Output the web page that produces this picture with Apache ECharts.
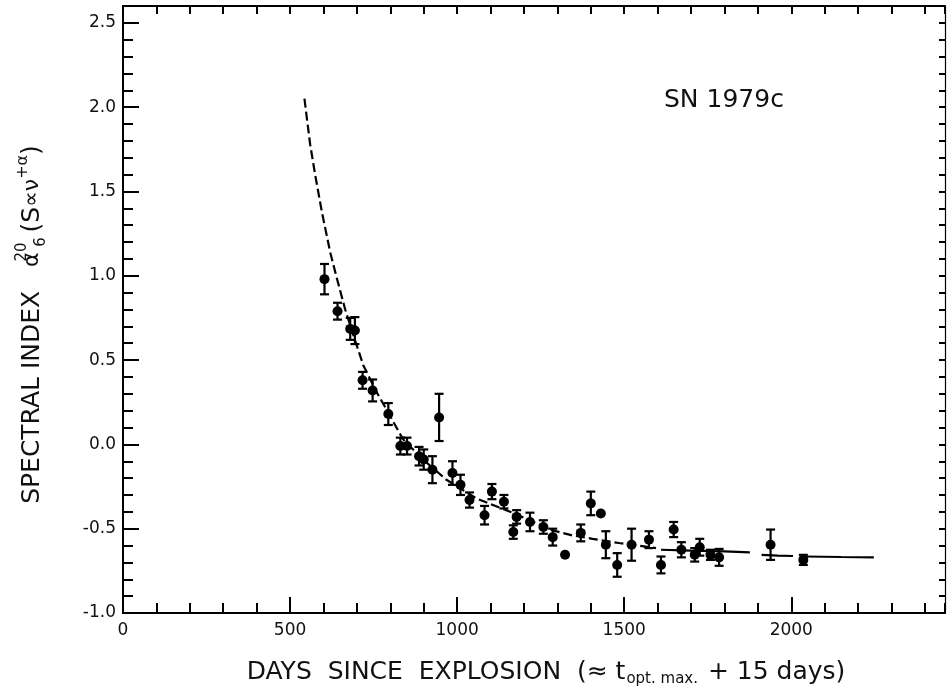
<!DOCTYPE html>
<html>
<head>
<meta charset="utf-8">
<script src="https://cdn.jsdelivr.net/npm/echarts@6/dist/echarts.min.js"></script>
<style>
  html, body { margin: 0; padding: 0; background: #fff; }
  #chart { width: 950px; height: 692px; }
</style>
</head>
<body>
<div id="chart"></div>
<script>
// SN 1979c: radio spectral index (6 cm / 20 cm) versus days since explosion.

const FONT = '"DejaVu Sans", "Liberation Sans", sans-serif';
const INK = '#111';

// Tick labels
const xTickLabels = ['0', '500', '1000', '1500', '2000'];
const yTickLabels = ['-1.0', '-0.5', '0.0', '0.5', '1.0', '1.5', '2.0', '2.5'];

// Measured spectral indices with 1-sigma errors (0 = no bar drawn)
const obsDays  = [603, 642, 680, 694, 717, 747, 794, 830, 850, 886, 900, 926, 946, 986, 1010, 1037, 1082, 1104, 1140, 1168, 1178, 1218, 1258, 1286, 1323, 1370, 1400, 1430, 1445, 1479, 1522, 1574, 1610, 1648, 1671, 1711, 1726, 1758, 1784, 1938, 2036];
const obsIndex = [0.98, 0.79, 0.685, 0.675, 0.38, 0.32, 0.18, -0.01, -0.01, -0.07, -0.09, -0.15, 0.16, -0.17, -0.24, -0.33, -0.42, -0.28, -0.34, -0.52, -0.43, -0.46, -0.49, -0.55, -0.655, -0.525, -0.35, -0.41, -0.595, -0.715, -0.595, -0.565, -0.715, -0.505, -0.625, -0.655, -0.61, -0.655, -0.67, -0.595, -0.685];
const obsErr   = [0.09, 0.05, 0.065, 0.08, 0.05, 0.065, 0.065, 0.05, 0.05, 0.055, 0.06, 0.08, 0.14, 0.07, 0.06, 0.045, 0.055, 0.045, 0.04, 0.04, 0.04, 0.055, 0.04, 0.05, 0, 0.05, 0.07, 0, 0.08, 0.07, 0.095, 0.05, 0.05, 0.045, 0.045, 0.04, 0.05, 0.03, 0.05, 0.09, 0.03];

// Model curve: dashed early part
const fitDays  = [543, 560, 575, 595, 620, 638, 665, 694, 719, 759, 799, 838, 898, 968, 1057, 1147, 1206, 1286, 1345, 1405, 1484, 1540, 1595];
const fitIndex = [2.05, 1.78, 1.60, 1.38, 1.14, 1.00, 0.80, 0.62, 0.47, 0.31, 0.17, 0.03, -0.09, -0.21, -0.32, -0.39, -0.44, -0.51, -0.54, -0.56, -0.585, -0.60, -0.615];

// Model curve: flat tail drawn in long strokes (null = pen lifted)
const tailDays  = [1610, 1700, 1800, 1876, 1893, 1911, 1960, 2005, 2022, 2040, 2150, 2247];
const tailIndex = [-0.625, -0.63, -0.635, -0.64, null, -0.655, -0.66, -0.662, null, -0.665, -0.668, -0.67];

const fitData  = fitDays.map((d, i) => [d, fitIndex[i]]);
const tailData = tailDays.map((d, i) => [d, tailIndex[i]]);
const obsData  = obsDays.map((d, i) => [d, obsIndex[i], obsErr[i]]);

const X_MIN = 0, X_MAX = 2460;
const Y_MIN = -1.0, Y_MAX = 2.6;

const lineBlack = { color: '#000', width: 2 };
const tickRich = { n: { fontSize: 17, fontFamily: FONT, color: INK } };

function fmtX(v) {
  const s = String(Math.round(v));
  return xTickLabels.indexOf(s) >= 0 ? '{n|' + s + '}' : '';
}
function fmtY(v) {
  const s = (Math.round(v * 10) / 10).toFixed(1);
  return yTickLabels.indexOf(s) >= 0 ? '{n|' + s + '}' : '';
}

function errorBar(params, api) {
  const x = api.value(0), y = api.value(1), e = api.value(2);
  if (!e) return;
  const top = api.coord([x, y + e]);
  const bot = api.coord([x, y - e]);
  const cap = 4.5;
  const st = { stroke: '#000', lineWidth: 2.2 };
  return {
    type: 'group',
    children: [
      { type: 'line', shape: { x1: top[0], y1: top[1], x2: bot[0], y2: bot[1] }, style: st },
      { type: 'line', shape: { x1: top[0] - cap, y1: top[1], x2: top[0] + cap, y2: top[1] }, style: st },
      { type: 'line', shape: { x1: bot[0] - cap, y1: bot[1], x2: bot[0] + cap, y2: bot[1] }, style: st }
    ]
  };
}

const chart = echarts.init(document.getElementById('chart'), null, { renderer: 'canvas' });

const option = {
  animation: false,
  backgroundColor: '#fff',
  textStyle: { fontFamily: FONT, fontSize: 17, color: INK },
  grid: { left: 123, right: 5, top: 6, bottom: 79, outerBoundsMode: 'none' },
  xAxis: [
    {
      type: 'value', position: 'bottom', min: X_MIN, max: X_MAX, interval: 500,
      axisLine: { show: true, onZero: false, lineStyle: lineBlack },
      axisTick: { show: true, inside: true, length: 16, lineStyle: lineBlack },
      axisLabel: { margin: 9, formatter: fmtX, rich: tickRich, showMaxLabel: false },
      splitLine: { show: false },
      name: '{t|DAYS  SINCE  EXPLOSION  (≈ t}{sb|opt. max.}{t| + 15 days)}',
      nameLocation: 'middle',
      nameGap: 44,
      nameTextStyle: {
        padding: [0, 0, 0, 24],
        rich: {
          t: { fontSize: 25, fontFamily: FONT, color: INK, lineHeight: 30, verticalAlign: 'middle' },
          sb: { fontSize: 15, fontFamily: FONT, color: INK, lineHeight: 15, verticalAlign: 'bottom', padding: [0, 2, 0, 1] }
        }
      }
    },
    {
      type: 'value', position: 'bottom', min: X_MIN, max: X_MAX, interval: 100,
      axisLine: { show: false, onZero: false },
      axisTick: { show: true, inside: true, length: 10, lineStyle: lineBlack },
      axisLabel: { show: false },
      splitLine: { show: false }
    },
    {
      type: 'value', position: 'top', min: X_MIN, max: X_MAX, interval: 100,
      axisLine: { show: true, onZero: false, lineStyle: lineBlack },
      axisTick: { show: true, inside: true, length: 8, lineStyle: lineBlack },
      axisLabel: { show: false },
      splitLine: { show: false }
    }
  ],
  yAxis: [
    {
      type: 'value', position: 'left', min: Y_MIN, max: Y_MAX, interval: 0.5,
      axisLine: { show: true, onZero: false, lineStyle: lineBlack },
      axisTick: { show: true, inside: true, length: 16, lineStyle: lineBlack },
      axisLabel: { margin: 7, formatter: fmtY, rich: tickRich, showMaxLabel: false },
      splitLine: { show: false },
      name: '{t|SPECTRAL INDEX   }{g|α}{sp|20}{sb|6}{t|(S}{g|∝}{g|ν}{sp2|+α}{t|)}',
      nameLocation: 'middle',
      nameRotate: 90,
      nameGap: 74,
      nameTextStyle: {
        padding: [0, 30, 0, 0],
        rich: {
          t: { fontSize: 25, fontFamily: FONT, color: INK, lineHeight: 34, verticalAlign: 'middle' },
          g: { fontSize: 22, fontFamily: FONT, color: INK, lineHeight: 34, verticalAlign: 'middle' },
          sp: { fontSize: 15, fontFamily: FONT, color: INK, lineHeight: 15, verticalAlign: 'top', width: 1 },
          sb: { fontSize: 15, fontFamily: FONT, color: INK, lineHeight: 15, verticalAlign: 'bottom', width: 19 },
          sp2: { fontSize: 16, fontFamily: FONT, color: INK, lineHeight: 16, verticalAlign: 'top' }
        }
      }
    },
    {
      type: 'value', position: 'left', min: Y_MIN, max: Y_MAX, interval: 0.1,
      axisLine: { show: false, onZero: false },
      axisTick: { show: true, inside: true, length: 10, lineStyle: lineBlack },
      axisLabel: { show: false },
      splitLine: { show: false }
    },
    {
      type: 'value', position: 'right', min: Y_MIN, max: Y_MAX, interval: 0.1,
      axisLine: { show: true, onZero: false, lineStyle: { color: '#000', width: 1.2 } },
      axisTick: { show: true, inside: true, length: 6, lineStyle: lineBlack },
      axisLabel: { show: false },
      splitLine: { show: false }
    }
  ],
  graphic: [
    {
      type: 'text', left: 664, top: 88,
      style: { text: 'SN 1979c', font: '25px ' + FONT, fill: INK }
    }
  ],
  series: [
    {
      name: 'model', type: 'line', xAxisIndex: 0, yAxisIndex: 0,
      data: fitData, showSymbol: false, symbol: 'none', smooth: false,
      lineStyle: { color: '#000', width: 2.2, type: [9, 4] },
      z: 2
    },
    {
      name: 'model tail', type: 'line', xAxisIndex: 0, yAxisIndex: 0,
      data: tailData, showSymbol: false, symbol: 'none', connectNulls: false,
      lineStyle: { color: '#000', width: 2.2 },
      z: 2
    },
    {
      name: 'errors', type: 'custom', xAxisIndex: 0, yAxisIndex: 0,
      data: obsData, encode: { x: 0, y: 1 },
      renderItem: errorBar,
      z: 3
    },
    {
      name: 'observed', type: 'scatter', xAxisIndex: 0, yAxisIndex: 0,
      data: obsData.map(p => [p[0], p[1]]),
      symbol: 'circle', symbolSize: 10,
      itemStyle: { color: '#000', opacity: 1 },
      z: 4
    }
  ]
};

chart.setOption(option);
</script>
</body>
</html>
